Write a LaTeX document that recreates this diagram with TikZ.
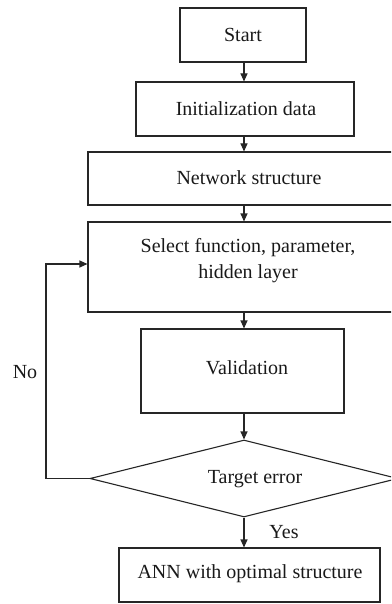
\documentclass[tikz,border=0pt]{standalone}
\usepackage{fontspec}
\setmainfont{Liberation Serif}
\usetikzlibrary{arrows.meta,shapes.geometric}
\begin{document}
\begin{tikzpicture}[x=1pt,y=-1pt,
  line/.style={draw=black!85, line width=1.1pt},
  box/.style={line, rectangle, inner sep=0pt, align=center},
  txt/.style={inner sep=0pt, align=center, text=black!90, font=\fontsize{20}{26}\selectfont},
  arr/.style={line, -{Triangle[length=8pt,width=7pt]}}]
\useasboundingbox (0,0) rectangle (391,604);
\clip (0,0) rectangle (391,604);
\coordinate (col) at (244,0);
% boxes
\node[box, minimum width=126pt, minimum height=54pt] (start) at (243,35) {};
\node[txt] (startt) at (243,35) {Start};
\node[box, minimum width=218pt, minimum height=54pt] (init) at (245,109) {};
\node[txt] (initt) at (246,109) {Initialization data};
\node[box, minimum width=322pt, minimum height=53pt] (net) at (249,178.5) {};
\node[txt] (nett) at (249,178) {Network structure};
\node[box, minimum width=318pt, minimum height=90pt] (sel) at (247,267) {};
\node[txt] (selt) at (248,261) {Select function, parameter,\\hidden layer};
\node[box, minimum width=203pt, minimum height=84pt] (val) at (242.5,371) {};
\node[txt] (valt) at (247,368) {Validation};
\node[line, diamond, inner sep=0pt, minimum width=308pt, minimum height=77pt] (dia) at (244,478.5) {};
\node[txt] (diat) at (255,479) {Target error};
\node[box, minimum width=261pt, minimum height=54pt] (ann) at (249.5,575) {};
\node[txt] (annt) at (250,574) {ANN with optimal structure};
% labels
\node[txt] (no) at (25,372) {No};
\node[txt] (yes) at (284,532) {Yes};
% arrows
\draw[arr] (col |- start.south) -- (col |- init.north);
\draw[arr] (col |- init.south) -- (col |- net.north);
\draw[arr] (col |- net.south) -- (col |- sel.north);
\draw[arr] (col |- sel.south) -- (col |- val.north);
\draw[arr] (col |- val.south) -- (dia.north);
\draw[arr] (dia.south) -- (col |- ann.north);
\coordinate (loopx) at (46,264);
\draw[arr] (dia.west) -| (loopx) -- (loopx -| sel.west);
\end{tikzpicture}
\end{document}
